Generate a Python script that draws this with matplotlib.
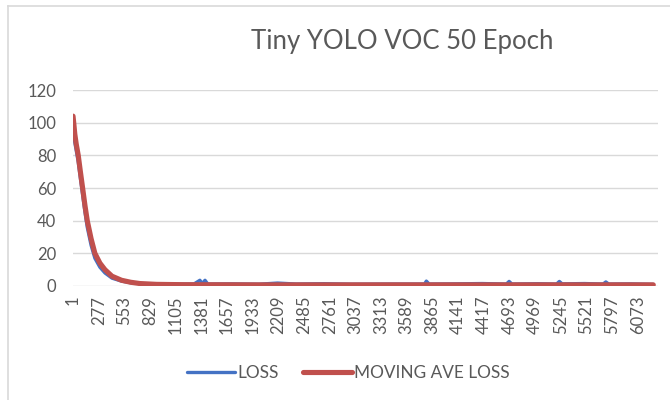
import matplotlib.pyplot as plt
from matplotlib.lines import Line2D

plt.rcParams['font.family'] = ['Lato', 'DejaVu Sans']

# values (iteration, loss)
loss_iter = [1, 20, 57, 80, 104, 130, 154, 195, 236, 290, 344, 420, 523, 620, 720,
             900, 1100, 1300, 1365, 1390, 1420, 1450, 1700, 2000, 2200, 2400, 2700,
             3000, 3400, 3780, 3800, 3830, 4100, 4400, 4660, 4690, 4720, 5000, 5200,
             5230, 5260, 5500, 5700, 5730, 5760, 6000, 6240]
loss_vals = [97, 88, 76, 66, 56, 45, 36, 25, 17, 11.5, 8, 4.8, 3, 2.0, 1.5,
             1.2, 1.1, 1.2, 3.5, 1.5, 3.5, 1.2, 1.3, 1.1, 1.8, 1.2, 1.4,
             1.1, 1.2, 1.2, 3.0, 1.2, 1.3, 1.5, 1.2, 2.8, 1.2, 1.4, 1.2,
             2.8, 1.3, 1.5, 1.2, 2.5, 1.2, 1.3, 1.0]

ave_iter = [1, 10, 20, 35, 57, 80, 104, 130, 154, 195, 236, 290, 344, 420, 523,
            620, 720, 900, 1200, 2000, 3000, 4000, 5000, 6240]
ave_vals = [104, 99, 93, 87, 80, 70, 60, 49, 40, 29, 20, 14, 10, 6, 3.5,
            2.3, 1.5, 1.0, 0.8, 0.7, 0.7, 0.7, 0.7, 0.7]

tick_labels = list(range(1, 6074, 276))

gray = '#595959'
grid = '#d9d9d9'

fig = plt.figure(figsize=(6.7, 4.0), dpi=100)
ax = fig.add_axes([0.109, 0.285, 0.873, 0.49])

ax.plot(loss_iter, loss_vals, color='#4472C4', lw=2.4, solid_capstyle='round',
        solid_joinstyle='round', label='LOSS', zorder=3)
ax.plot(ave_iter, ave_vals, color='#C0504D', lw=3.7, solid_capstyle='round',
        solid_joinstyle='round', label='MOVING AVE LOSS', zorder=4)

ax.set_xlim(1, 6290)
ax.set_ylim(0, 120)
ax.set_yticks(range(0, 121, 20))
ax.set_xticks(tick_labels)
ax.set_xticklabels([str(t) for t in tick_labels], rotation=90)
ax.tick_params(axis='both', length=0, colors=gray, labelsize=12)
ax.tick_params(axis='y', pad=12)
ax.tick_params(axis='x', pad=7)
ax.yaxis.grid(True, color=grid, lw=1)
ax.set_axisbelow(True)
for s in ax.spines.values():
    s.set_visible(False)

fig.text(0.60, 0.895, 'Tiny YOLO VOC 50 Epoch', ha='center', va='center',
         fontsize=18.5, color=gray)

fig.legend(loc='center', bbox_to_anchor=(0.52, 0.068), ncol=2, frameon=False,
           fontsize=12.4, labelcolor=gray, handlelength=2.8, handletextpad=0.15,
           columnspacing=1.4)

# chart frame edges
fig.add_artist(Line2D([0.012, 0.012], [0.0, 0.985], color=grid, lw=1.2))
fig.add_artist(Line2D([0.012, 1.0], [0.985, 0.985], color=grid, lw=1.2))

fig.savefig('out.png', dpi=100)
